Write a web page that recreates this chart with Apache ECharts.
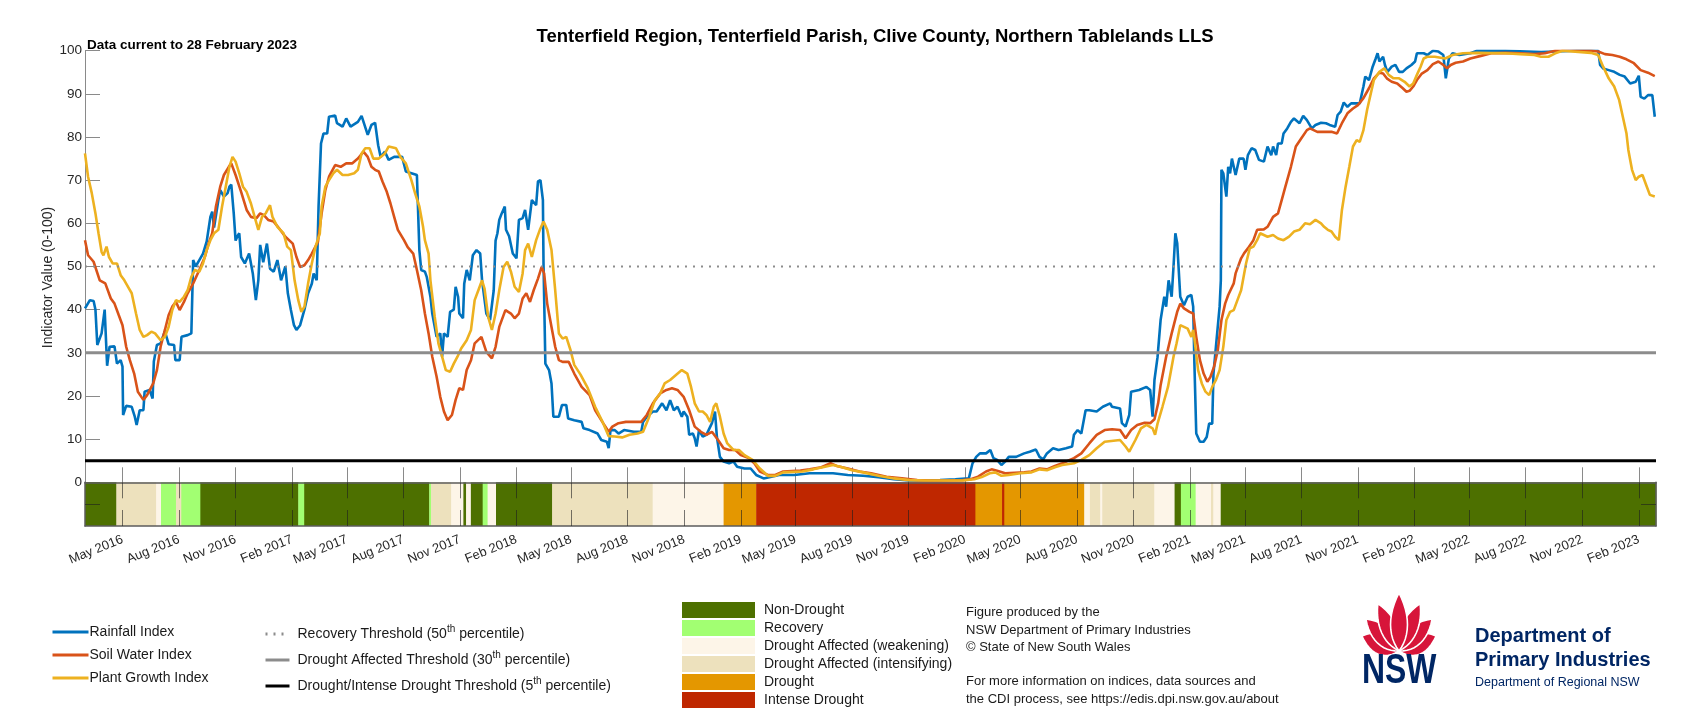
<!DOCTYPE html>
<html><head><meta charset="utf-8">
<script src="https://cdn.jsdelivr.net/npm/echarts@6/dist/echarts.min.js"></script>
<style>html,body{margin:0;padding:0;background:#fff}#chart{width:1707px;height:720px}</style>
</head><body><div id="chart"></div>
<script>
// ---------- DATA ----------
const startDate = '2016-03-01';
const endDate = '2023-03-01';
// [day index since startDate, value]
const rainfall = [[0,40.3],[8,42.2],[14,42],[17,40],[20,31.8],[27,34.5],[32,40],[36,27],[40,31.4],[48,31.5],[52,27.5],[58,28.3],[61,26.8],[62,15.6],[67,17.7],[76,17.5],[81,15.2],[84,13.3],[87,13.3],[89,16.7],[95,16.7],[97,21],[105,21.4],[110,19.4],[112,28],[117,31.8],[123,32.2],[130,35],[136,32],[145,31.8],[147,28.3],[154,28.3],[157,33.7],[167,34.1],[173,34.5],[176,51.5],[180,50],[186,51.5],[192,53],[198,55.8],[204,61.5],[207,62.7],[210,59],[217,65.4],[220,67.7],[226,66.2],[232,67],[235,68.5],[238,69],[242,62.3],[245,56],[248,57],[251,57.7],[254,52.2],[260,50.7],[267,53],[273,48.4],[278,42.2],[282,46.8],[285,55],[290,51],[296,55.3],[301,49.5],[307,48.8],[313,51.5],[319,46.8],[326,50],[330,43.8],[335,39.9],[340,36.4],[344,35.3],[350,36.4],[357,40],[363,43.8],[369,46],[372,48.4],[377,46.8],[380,63.9],[384,78.5],[388,80.8],[394,80.8],[397,84.7],[407,85],[410,83.2],[419,82.4],[425,84.3],[432,82.4],[444,83.5],[450,84.9],[460,80.5],[466,82.8],[472,83.3],[477,78.1],[481,75.4],[488,76.6],[494,74.7],[503,75.4],[516,75.4],[522,72],[531,71.6],[540,71.2],[544,53.8],[547,49.2],[553,48.8],[556,47.6],[562,43],[565,39.1],[572,33.7],[578,34.5],[581,29.1],[584,34.5],[590,33.7],[594,39.5],[600,40],[603,45.3],[607,43],[609,39.1],[615,38],[617,46],[621,49.2],[626,46.8],[631,52.6],[637,53.8],[643,53],[646,46.8],[653,39.1],[659,37.6],[665,44.5],[668,56],[671,57.7],[674,60.8],[678,62.3],[683,63.9],[685,58.5],[690,57],[696,53],[702,51.9],[706,60.8],[712,61.2],[716,63.1],[721,58.5],[727,65.4],[734,64.2],[737,69.7],[741,70],[745,65.4],[746,50.7],[749,27.5],[755,26],[759,22.9],[762,15.2],[771,15.2],[776,17.9],[783,17.9],[786,14.8],[796,14.4],[808,14],[811,12.5],[821,12.1],[834,11.3],[840,9.8],[849,9.4],[852,7.9],[855,12.1],[862,12.1],[868,11.3],[877,12.1],[893,11.7],[905,11.7],[908,14],[914,15.2],[924,16.4],[930,16.4],[939,18.3],[946,16.7],[952,19],[958,16.7],[964,17.5],[971,15.2],[974,16.4],[980,15.2],[983,11],[989,11.3],[992,10.2],[995,8.3],[999,12.1],[1005,10.6],[1011,11],[1020,13.7],[1025,16.4],[1028,10.6],[1033,5.9],[1039,4.8],[1048,4.4],[1055,4.8],[1061,3.6],[1073,3.2],[1083,3.2],[1092,1.7],[1104,0.9],[1117,1.3],[1129,1.7],[1154,1.7],[1179,2.1],[1217,2.1],[1241,1.7],[1266,1.5],[1291,1.2],[1316,0.7],[1341,0.4],[1366,0.4],[1391,0.5],[1416,0.7],[1438,0.9],[1444,4.4],[1450,5.9],[1456,6.7],[1466,6.7],[1473,7.5],[1478,5.6],[1484,5.2],[1491,4],[1497,4.8],[1503,5.9],[1515,5.9],[1528,6.7],[1537,7.1],[1547,7.6],[1553,5.9],[1559,5.3],[1565,6.7],[1575,7.9],[1584,7.5],[1596,7.9],[1606,8.3],[1609,11],[1615,12.1],[1621,11.3],[1628,16.7],[1634,16.7],[1646,16.4],[1656,17.5],[1668,18.3],[1671,17.5],[1684,17.1],[1687,13.7],[1693,12.9],[1699,15.6],[1702,21],[1715,21.4],[1727,22.1],[1733,21.4],[1737,15.2],[1740,23.7],[1745,29],[1750,37.6],[1756,43],[1759,40.7],[1763,46.8],[1768,43],[1771,50],[1774,57.7],[1777,55.4],[1779,55],[1782,43],[1788,41],[1794,43],[1800,43.4],[1803,40.7],[1805,27.5],[1808,11.3],[1814,9.4],[1820,9.4],[1825,10.5],[1829,13.6],[1834,13.6],[1836,25.2],[1840,31.4],[1846,40.7],[1848,46.8],[1849,72.4],[1852,71.6],[1855,71.6],[1857,66.2],[1860,73.1],[1863,71.6],[1866,75],[1872,71.2],[1878,75],[1885,75],[1888,72.4],[1892,75.8],[1898,77.4],[1904,77],[1910,74.7],[1918,74.3],[1924,77.8],[1930,75.8],[1933,77.8],[1938,75.8],[1941,78.5],[1947,78.5],[1950,80.8],[1956,82],[1962,83.5],[1967,84.3],[1970,84.7],[1976,83.2],[1982,84.9],[1988,83.9],[1990,84.3],[1996,82],[2002,82.8],[2011,83.3],[2019,83.2],[2025,82.8],[2034,82.4],[2038,85.1],[2043,85.9],[2048,88],[2054,87],[2060,87.8],[2074,87.8],[2080,91.7],[2083,94],[2089,93.2],[2095,96.3],[2100,98.2],[2103,99.4],[2106,97.5],[2112,98.6],[2115,96.7],[2119,95.1],[2126,96.3],[2132,96.7],[2138,95.1],[2144,95.1],[2150,95.9],[2158,96.7],[2164,97.5],[2167,99.4],[2178,99.4],[2184,99],[2193,100],[2202,99.8],[2210,99],[2214,93.6],[2219,98.2],[2225,99.4],[2236,99],[2254,99.4],[2265,100],[2311,100],[2369,99.7],[2427,100],[2462,100],[2465,96.7],[2470,95.9],[2479,95.5],[2488,95.1],[2497,94.4],[2505,94],[2514,92.4],[2523,92.8],[2528,94.2],[2531,89.3],[2537,88.9],[2543,89.7],[2550,89.7],[2554,84.7]];
const soilWater = [[0,56.1],[5,52.6],[14,51.1],[24,46.8],[33,46.1],[42,42.6],[48,41.4],[55,38.7],[61,36.4],[67,31.4],[73,28.3],[80,25.2],[86,21],[95,19.1],[101,20.2],[111,22.9],[117,26],[123,31.4],[130,35.3],[136,38.7],[142,40.7],[148,41.8],[154,39.9],[161,41.8],[167,43.8],[176,46.1],[186,49.2],[195,52.2],[201,55.3],[207,57.7],[213,63.9],[220,68.5],[226,71.2],[234,73.1],[238,73.9],[245,71.2],[254,67.3],[263,63.1],[270,61.5],[279,61.2],[285,62.3],[291,61.9],[298,60.8],[307,60.4],[316,58.8],[326,56.9],[338,55.3],[344,52.2],[350,49.9],[357,50.3],[363,51.5],[369,53],[379,55.7],[385,62.3],[391,67.7],[397,70.8],[407,73.5],[416,73.1],[425,73.9],[435,73.9],[444,75],[453,76.6],[460,75.4],[466,73.1],[472,72.4],[478,72],[484,69.7],[491,67.3],[497,64.6],[503,61.5],[509,58.5],[519,56.1],[525,54.5],[534,53],[540,49.2],[547,44.5],[553,39.1],[559,34.5],[565,29.1],[572,24.5],[578,19.8],[584,16.4],[590,14.4],[597,15.6],[603,19.1],[609,21.8],[615,21.4],[621,26],[628,28.3],[634,32.2],[645,33.7],[653,30.2],[662,28.7],[668,31.4],[674,36],[684,39.9],[693,39.1],[699,38],[706,39.1],[712,42.6],[718,43.8],[724,41.8],[730,44.5],[737,47.2],[743,49.9],[747,48.4],[752,41.4],[759,36],[765,31.4],[771,28.3],[777,27.9],[787,27.9],[796,25.2],[808,22.1],[821,20.2],[830,16.7],[843,13.7],[852,11.7],[858,12.9],[868,13.7],[880,14],[905,14],[914,15.6],[924,18.3],[936,20.6],[946,21.4],[955,21.8],[964,21.4],[974,19.8],[983,16.7],[992,12.9],[1002,11.7],[1011,11],[1020,11.7],[1030,9.8],[1039,7.9],[1048,7.5],[1058,7.5],[1067,6.3],[1080,5.6],[1089,4.4],[1098,2.5],[1111,1.7],[1123,1.7],[1136,2.5],[1164,2.7],[1179,3],[1198,3.5],[1213,4.4],[1223,3.8],[1241,3.2],[1260,2.5],[1279,2.1],[1304,1.3],[1329,0.9],[1354,0.5],[1378,0.4],[1403,0.4],[1428,0.5],[1441,0.7],[1453,1.3],[1466,2.5],[1475,3],[1484,2.7],[1497,2.1],[1528,2.3],[1540,2.5],[1553,3.2],[1565,3],[1578,3.8],[1590,4.4],[1609,5.6],[1621,6.7],[1634,9],[1646,11],[1659,12.1],[1671,12.3],[1684,12.1],[1693,10.2],[1702,12.1],[1712,13.3],[1724,13.8],[1733,13.7],[1740,14.6],[1746,18.3],[1750,22.5],[1759,29.1],[1768,34.5],[1777,39.5],[1782,41.4],[1788,40.3],[1797,39.5],[1803,39.1],[1808,33.7],[1814,28.3],[1820,25.2],[1826,23.3],[1831,24.4],[1837,26.8],[1843,30.6],[1849,37.6],[1855,41.4],[1860,43.4],[1869,46.1],[1872,48.4],[1881,51.9],[1886,53.1],[1892,54.2],[1901,56.1],[1907,58.5],[1918,58.6],[1924,59.2],[1933,61.5],[1941,62.3],[1947,65.4],[1953,68.5],[1962,73.1],[1970,77.8],[1979,79.7],[1988,81.6],[1993,82],[2005,81.2],[2028,81.2],[2037,80.8],[2045,83.2],[2054,85.5],[2063,86.6],[2071,87.4],[2080,89],[2089,91.3],[2097,93.6],[2106,94.9],[2112,94.7],[2118,93.6],[2126,92.8],[2135,92.4],[2144,91.3],[2150,90.5],[2155,90.7],[2161,91.7],[2167,93.2],[2175,94.7],[2184,95.5],[2193,96.9],[2202,97.5],[2210,96.7],[2216,95.9],[2222,96.7],[2230,97.2],[2242,97.5],[2254,98.2],[2271,98.8],[2288,99.4],[2311,99.5],[2335,99.4],[2358,99.2],[2375,99.4],[2392,100],[2450,100],[2462,99.8],[2473,99.2],[2485,99],[2497,98.6],[2508,98],[2520,97.1],[2531,95.5],[2543,94.9],[2554,94.1]];
const plantGrowth = [[0,76.2],[5,70.8],[11,67],[17,62.3],[22,57.7],[27,53.4],[30,52.6],[35,54.6],[39,52.2],[45,50.7],[52,50.7],[58,48],[64,46.8],[70,45.3],[76,43.8],[83,39.1],[89,35.3],[95,33.7],[101,34.1],[108,34.9],[114,34.5],[123,32.9],[130,33.7],[136,36],[142,39.9],[148,42.2],[154,41.8],[161,43],[167,44.5],[173,47.6],[179,49.2],[186,48.8],[192,50.7],[198,53.8],[204,56.1],[210,57.7],[217,58.5],[223,63.9],[229,68.5],[235,73.1],[240,75.4],[245,74.3],[251,71.6],[257,68.5],[263,67.3],[270,64.6],[276,61.5],[282,58.5],[288,61.5],[294,62.3],[301,64.2],[305,61.5],[313,59.2],[323,57.7],[329,54.6],[335,53.8],[341,46.8],[347,42.2],[352,39.5],[357,40.7],[363,46.1],[369,50.7],[375,54.6],[382,57.6],[385,63.9],[391,68.5],[397,70],[404,71.6],[410,72.4],[419,71.2],[428,71.2],[438,71.6],[444,72.4],[450,76.2],[456,77.4],[463,77.4],[469,75],[478,75],[488,76.2],[494,77.8],[506,77.4],[513,75.4],[522,73.9],[531,70],[537,67],[544,63.9],[550,59.2],[553,56.1],[559,53],[562,46.8],[569,38.3],[575,32.2],[581,29.1],[587,26],[594,25.6],[600,27.5],[606,29.1],[612,31],[621,32.9],[628,35.3],[634,42.2],[640,44.5],[646,46.8],[650,44.9],[656,38.3],[662,35.3],[668,39.1],[674,44.5],[681,49.9],[687,51.1],[693,48.8],[699,45.3],[706,44.1],[712,48.4],[716,53.8],[721,55.3],[727,52.2],[734,56.1],[740,58.5],[746,60.4],[752,58.5],[759,53.8],[765,44.5],[771,34.5],[777,33.3],[783,33.7],[790,30.6],[796,27.2],[806,25],[818,21.8],[830,17.5],[843,13.7],[852,10.7],[862,10.6],[874,10.4],[886,11],[899,11.3],[908,11.7],[918,15.2],[927,19],[936,20.6],[943,22.9],[952,23.7],[961,24.8],[971,26],[980,25.2],[986,22.1],[992,18.3],[999,16.4],[1005,16.4],[1011,15.6],[1017,14],[1023,17.5],[1027,18.3],[1033,15.2],[1039,11.3],[1045,9],[1055,7.5],[1064,7.5],[1073,6.3],[1086,5.2],[1098,3.2],[1111,1.5],[1123,1.5],[1136,2.3],[1167,2.5],[1185,3],[1204,3.6],[1217,4],[1229,3.6],[1248,2.8],[1266,2.3],[1291,1.5],[1316,0.9],[1341,0.5],[1366,0.4],[1428,0.4],[1447,0.7],[1459,1.2],[1472,2.1],[1481,2.3],[1491,1.5],[1503,1.7],[1522,2.1],[1540,2.3],[1553,3],[1565,2.8],[1578,3.5],[1590,4],[1609,4.4],[1621,5.2],[1634,6.3],[1646,7.9],[1659,9.4],[1684,9.8],[1693,8.3],[1699,7.1],[1709,9.8],[1718,12.5],[1727,13.3],[1737,12.5],[1741,11],[1745,13.6],[1753,17.5],[1762,22.1],[1771,29.1],[1776,32.2],[1782,36.4],[1788,36],[1794,35.6],[1800,33.7],[1803,35.3],[1805,33.3],[1811,26],[1817,22.9],[1823,21],[1829,20.2],[1834,22.1],[1840,23.7],[1846,26],[1852,31.4],[1857,37.6],[1863,39.5],[1869,39.9],[1875,42.2],[1881,44.5],[1889,50.7],[1895,54.2],[1901,54.6],[1907,56.1],[1912,57.7],[1918,57.3],[1924,56.9],[1933,57.3],[1941,56.5],[1950,56.1],[1959,56.9],[1967,58.1],[1976,58.5],[1985,60],[1993,59.8],[2002,60.8],[2011,60],[2016,59.2],[2022,58.5],[2028,58.1],[2034,56.9],[2040,56.1],[2045,63.1],[2051,68.5],[2057,73.1],[2063,77.8],[2069,79.3],[2074,78.9],[2080,81.6],[2086,86.3],[2092,90.1],[2097,93.2],[2106,95.1],[2114,95.9],[2121,94.4],[2129,93.6],[2138,93.6],[2147,92.8],[2155,91.7],[2161,92.4],[2167,94.4],[2173,96.3],[2178,98.2],[2184,98.6],[2196,98.6],[2213,98.2],[2225,99],[2242,99.4],[2265,99.5],[2311,99.4],[2335,99.2],[2358,99],[2369,98.6],[2381,98.6],[2392,99.4],[2404,100],[2450,99.5],[2462,99],[2470,96.3],[2479,93.6],[2488,91.7],[2496,88.6],[2502,84.7],[2508,80.8],[2511,77],[2514,74.7],[2517,72.4],[2523,70],[2528,70.8],[2534,71.2],[2540,68.9],[2546,66.6],[2554,66.2]];

const seriesNames = ['Rainfall Index', 'Soil Water Index', 'Plant Growth Index'];
const thresholdNames = ['Recovery Threshold (50th percentile)', 'Drought Affected Threshold (30th percentile)', 'Drought/Intense Drought Threshold (5th percentile)'];
const thresholdValues = [50, 30, 5];

const tickDates = ['2016-05-01','2016-08-01','2016-11-01','2017-02-01','2017-05-01','2017-08-01','2017-11-01','2018-02-01','2018-05-01','2018-08-01','2018-11-01','2019-02-01','2019-05-01','2019-08-01','2019-11-01','2020-02-01','2020-05-01','2020-08-01','2020-11-01','2021-02-01','2021-05-01','2021-08-01','2021-11-01','2022-02-01','2022-05-01','2022-08-01','2022-11-01','2023-02-01'];
const tickLabels = ['May 2016','Aug 2016','Nov 2016','Feb 2017','May 2017','Aug 2017','Nov 2017','Feb 2018','May 2018','Aug 2018','Nov 2018','Feb 2019','May 2019','Aug 2019','Nov 2019','Feb 2020','May 2020','Aug 2020','Nov 2020','Feb 2021','May 2021','Aug 2021','Nov 2021','Feb 2022','May 2022','Aug 2022','Nov 2022','Feb 2023'];
const yTickValues = [0,10,20,30,40,50,60,70,80,90,100];

const cdiNames = ['Non-Drought','Recovery','Drought Affected (weakening)','Drought Affected (intensifying)','Drought','Intense Drought'];
// class starts (index into cdiNames); each lasts until the next start
const cdiStarts = ['2016-03-01','2016-04-21','2016-06-24','2016-07-02','2016-07-27','2016-08-04','2016-09-04','2017-02-11','2017-02-20','2017-09-12','2017-09-15','2017-10-17','2017-11-06','2017-11-11','2017-11-18','2017-12-08','2017-12-16','2017-12-29','2018-03-31','2018-09-10','2019-01-04','2019-02-26','2020-02-17','2020-04-01','2020-04-04','2020-08-12','2020-08-22','2020-09-07','2020-09-11','2020-12-04','2021-01-06','2021-01-17','2021-02-10','2021-03-07','2021-03-10','2021-03-22'];
const cdiClass = [0,3,2,1,3,1,0,1,0,1,3,2,0,2,0,1,2,0,3,2,4,5,4,5,4,2,3,2,3,2,0,1,2,3,2,0];

// ---------- STYLE ----------
const FONT = 'Liberation Sans, Arial, Helvetica, sans-serif';
const lineColors = ['#0072bd', '#d95319', '#edb120'];
const cdiColors = ['#4d7000', '#a2ff72', '#fdf5e8', '#ede1bd', '#e49700', '#bf2700'];

const DAY = 864e5;
const parseD = s => Date.parse(s + 'T00:00:00Z');
const T0 = parseD(startDate);
const tMax = parseD(endDate);
const toPts = arr => arr.map(p => [T0 + p[0] * DAY, p[1]]);
const tickTs = tickDates.map(parseD);
const fmtTick = v => { const i = tickTs.indexOf(v); return i >= 0 ? tickLabels[i] : ''; };

const lineSeries = [rainfall, soilWater, plantGrowth].map((arr, i) => ({
  name: seriesNames[i], type: 'line', xAxisIndex: 0, yAxisIndex: 0,
  data: toPts(arr), symbol: 'none', silent: true, z: 3 + i,
  lineStyle: { color: lineColors[i], width: 2.6 }, itemStyle: { color: lineColors[i] }
}));

const thrStyles = [
  { color: '#8c8c8c', width: 2, type: [2, 6] },
  { color: '#8c8c8c', width: 3, type: 'solid' },
  { color: '#000000', width: 3, type: 'solid' }
];
const thrSeries = thresholdValues.map((v, i) => ({
  name: thresholdNames[i], type: 'line', xAxisIndex: 0, yAxisIndex: 0,
  data: [[T0, v], [tMax, v]], symbol: 'none', silent: true, z: 8,
  lineStyle: thrStyles[i], itemStyle: { color: thrStyles[i].color }
}));

function stripItem(params, api) {
  const a = api.coord([api.value(0), 0]);
  const b = api.coord([api.value(1), -10]);
  return { type: 'rect', shape: { x: a[0], y: a[1], width: b[0] - a[0] + 0.4, height: b[1] - a[1] },
           style: { fill: api.visual('color') } };
}
const cdiSeries = cdiNames.map((nm, k) => {
  const data = [];
  cdiStarts.forEach((s, j) => {
    if (cdiClass[j] === k) {
      const e = j + 1 < cdiStarts.length ? cdiStarts[j + 1] : endDate;
      data.push([parseD(s), parseD(e)]);
    }
  });
  return { name: nm, type: 'custom', xAxisIndex: 1, yAxisIndex: 1, renderItem: stripItem,
           encode: { x: [0, 1] }, data, z: 1, silent: true, itemStyle: { color: cdiColors[k] } };
});

// waratah petals (logo decoration) as polygons
function bez(p0, p1, p2, p3, t) {
  const u = 1 - t;
  return [u*u*u*p0[0] + 3*u*u*t*p1[0] + 3*u*t*t*p2[0] + t*t*t*p3[0],
          u*u*u*p0[1] + 3*u*u*t*p1[1] + 3*u*t*t*p2[1] + t*t*t*p3[1]];
}
function petalPoly(cx, cy, angDeg, L, w) {
  const pts = [];
  const right = [[0,0],[w,-L*0.25],[w*1.05,-L*0.62],[0,-L]];
  const left = [[0,-L],[-w*1.05,-L*0.62],[-w,-L*0.25],[0,0]];
  for (let i = 0; i <= 12; i++) pts.push(bez(...right, i/12));
  for (let i = 1; i < 12; i++) pts.push(bez(...left, i/12));
  const a = angDeg * Math.PI / 180, c = Math.cos(a), s = Math.sin(a);
  return pts.map(([x, y]) => [cx + x*c - y*s, cy + x*s + y*c]);
}
const petalDefs = [[68,40,14],[-68,40,14],[46,46,12],[-46,46,12],[24,52,11],[-24,52,11],[0,58,11]];
const waratah = petalDefs.map(([ang, L, w]) => ({
  type: 'polygon', shape: { points: petalPoly(1399, 651, ang, L, w) },
  style: { fill: '#d7153a', stroke: '#ffffff', lineWidth: 1.6 }
}));

const xBase = { type: 'value', min: T0, max: tMax, splitLine: { show: false } };

const chart = echarts.init(document.getElementById('chart'), null, { renderer: 'canvas' });
chart.setOption({
  animation: false,
  backgroundColor: '#ffffff',
  textStyle: { fontFamily: FONT },
  title: [
    { text: 'Tenterfield Region, Tenterfield Parish, Clive County, Northern Tablelands LLS',
      left: 870, top: 22, textAlign: 'center',
      textStyle: { fontSize: 18.5, fontWeight: 'bold', color: '#000', fontFamily: FONT } },
    { text: 'Data current to 28 February 2023', left: 82, top: 33,
      textStyle: { fontSize: 13.5, fontWeight: 'bold', color: '#000', fontFamily: FONT } }
  ],
  grid: [
    { left: 85, right: 51, top: 50.7, bottom: 237.7 },
    { left: 85, right: 51, top: 482.3, bottom: 194 }
  ],
  xAxis: [
    Object.assign({}, xBase, { gridIndex: 0,
      axisLine: { show: false },
      axisTick: { show: true, inside: true, length: 15, customValues: tickTs, lineStyle: { color: '#8a8a8a' } },
      axisLabel: { show: false } }),
    Object.assign({}, xBase, { gridIndex: 1, position: 'bottom', z: 10,
      axisLine: { show: true, onZero: false, lineStyle: { color: '#5c5c5c', width: 1.5 } },
      axisTick: { show: true, inside: true, length: 16, customValues: tickTs, lineStyle: { color: 'rgba(30,30,30,0.6)' } },
      axisLabel: { show: true, customValues: tickTs, formatter: fmtTick, rotate: 22, margin: 13,
                   fontSize: 13, color: '#262626', fontFamily: FONT } }),
    Object.assign({}, xBase, { gridIndex: 1, position: 'top', z: 10,
      axisLine: { show: true, onZero: false, lineStyle: { color: '#5c5c5c', width: 1.5 } },
      axisTick: { show: true, inside: true, length: 16, customValues: tickTs, lineStyle: { color: 'rgba(30,30,30,0.6)' } },
      axisLabel: { show: false } })
  ],
  yAxis: [
    { gridIndex: 0, type: 'value', min: 0, max: 100, interval: 10,
      axisLine: { show: true, lineStyle: { color: '#8a8a8a' } },
      axisTick: { show: true, inside: true, length: 15, customValues: yTickValues, lineStyle: { color: '#8a8a8a' } },
      axisLabel: { show: true, customValues: yTickValues, fontSize: 13.5, color: '#262626', margin: 3, fontFamily: FONT },
      splitLine: { show: false },
      name: 'Indicator Value (0-100)', nameLocation: 'middle', nameGap: 30, nameMoveOverlap: false,
      nameTextStyle: { fontSize: 14, color: '#262626', padding: [0, 22, 0, 0], fontFamily: FONT } },
    { gridIndex: 1, type: 'value', min: -10, max: 0, position: 'left', z: 10,
      axisLine: { show: true, onZero: false, lineStyle: { color: '#5c5c5c', width: 1.5 } },
      axisTick: { show: true, inside: true, length: 15, customValues: [-5], lineStyle: { color: 'rgba(30,30,30,0.6)' } },
      axisLabel: { show: false }, splitLine: { show: false } },
    { gridIndex: 1, type: 'value', min: -10, max: 0, position: 'right', z: 10,
      axisLine: { show: true, onZero: false, lineStyle: { color: '#5c5c5c', width: 1.5 } },
      axisTick: { show: true, inside: true, length: 15, customValues: [-5], lineStyle: { color: 'rgba(30,30,30,0.6)' } },
      axisLabel: { show: false }, splitLine: { show: false } }
  ],
  legend: [
    { data: seriesNames, orient: 'vertical', left: 46, top: 620, itemWidth: 36, itemHeight: 14, itemGap: 9,
      selectedMode: false, itemStyle: { opacity: 0 }, lineStyle: { width: 3 },
      textStyle: { fontSize: 14, color: '#1a1a1a', fontFamily: FONT, padding: [0, 0, 0, -4] } },
    { data: thresholdNames, orient: 'vertical', left: 259, top: 619, itemWidth: 24, itemHeight: 14, itemGap: 6,
      selectedMode: false, itemStyle: { opacity: 0 }, lineStyle: { width: 3 },
      formatter: n => n.replace(/(\d+)th/, '$1{sup|th}'),
      textStyle: { fontSize: 14, color: '#1a1a1a', fontFamily: FONT, lineHeight: 20, padding: [0, 0, 0, 3],
                   rich: { sup: { fontSize: 10, lineHeight: 10, verticalAlign: 'top', fontFamily: FONT, color: '#1a1a1a' } } } },
    { data: cdiNames, orient: 'vertical', left: 677, top: 597, itemWidth: 73, itemHeight: 16, itemGap: 2,
      icon: 'rect', selectedMode: false, textStyle: { fontSize: 14, color: '#1a1a1a', fontFamily: FONT, padding: [0, 0, 0, 4] } }
  ],
  graphic: [
    { type: 'text', left: 966, top: 604,
      style: { text: 'Figure produced by the\nNSW Department of Primary Industries\n\u00A9 State of New South Wales\n\nFor more information on indices, data sources and\nthe CDI process, see https://edis.dpi.nsw.gov.au/about',
               font: '13px ' + FONT, lineHeight: 17.3, fill: '#1a1a1a' } },
    { type: 'group', children: waratah },
    { type: 'text', x: 1362, y: 650, scaleX: 0.76,
      style: { text: 'NSW', font: 'bold 42px ' + FONT, fill: '#002664', verticalAlign: 'top' } },
    { type: 'text', left: 1475, top: 624,
      style: { text: 'Department of\nPrimary Industries', font: 'bold 20px ' + FONT, lineHeight: 24, fill: '#002664' } },
    { type: 'text', left: 1475, top: 676,
      style: { text: 'Department of Regional NSW', font: '12.5px ' + FONT, fill: '#002664' } }
  ],
  series: cdiSeries.concat(lineSeries, thrSeries)
});
</script></body></html>
